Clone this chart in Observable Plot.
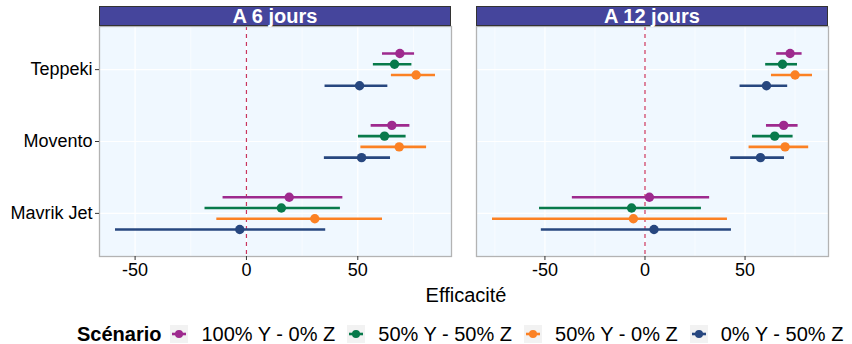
<!DOCTYPE html>
<html>
<head>
<meta charset="utf-8">
<script src="https://cdn.jsdelivr.net/npm/d3@7"></script>
<script src="https://cdn.jsdelivr.net/npm/@observablehq/plot@0.6"></script>
<style>
  html, body { margin: 0; padding: 0; background: white; overflow: hidden; }
  #root { position: relative; width: 852px; height: 344px; font-family: "Liberation Sans", Arial, Helvetica, sans-serif; color: #000; }
  .plot { position: absolute; top: 0; }
  .strip { position: absolute; top: 6px; height: 20px; box-sizing: border-box; background: #45459C; border: 1px solid #333; color: white; font-weight: bold; font-size: 20px; line-height: 18px; text-align: center; }
  #xlab { position: absolute; top: 284px; width: 140px; text-align: center; font-size: 20px; }
  #legend { position: absolute; left: 77px; top: 324px; height: 20px; line-height: 20px; display: flex; align-items: center; font-size: 20px; white-space: nowrap; }
  #legend span { line-height: 20px; }
  #legend .title { font-weight: bold; margin-right: 9px; }
  #legend .key { width: 18px; height: 18px; background: #F2F2F2; margin-right: 13px; display: flex; }
  #legend .lab { margin-right: 12px; }
</style>
</head>
<body>
<div id="root"></div>
<script>
const categories = ["Teppeki", "Movento", "Mavrik Jet"];
const scenarios = ["100% Y - 0% Z", "50% Y - 50% Z", "50% Y - 0% Z", "0% Y - 50% Z"];
const colors = ["#9E2A8E", "#087A4B", "#FB8124", "#27477F"];
const panels = ["A 6 jours", "A 12 jours"];

// estimates [category][scenario]
const est6 = [[68.9, 66.5, 76.2, 50.8], [65.3, 62.0, 68.6, 51.7], [19.2, 15.7, 30.7, -3.0]];
const lo6  = [[61.1, 57.0, 65.1, 35.3], [56.0, 50.3, 51.4, 35.0], [-10.5, -18.6, -13.3, -58.8]];
const hi6  = [[75.5, 74.3, 84.9, 63.5], [73.4, 71.7, 80.9, 64.7], [43.3, 42.2, 61.1, 35.6]];
const est12 = [[72.5, 68.7, 75.0, 60.7], [69.3, 64.8, 70.0, 57.7], [2.2, -6.7, -5.8, 4.5]];
const lo12  = [[65.8, 60.3, 63.2, 47.5], [60.7, 53.7, 52.0, 42.8], [-36.3, -52.7, -76.2, -51.8]];
const hi12  = [[78.5, 76.2, 83.7, 71.3], [76.5, 74.0, 81.8, 69.7], [32.3, 28.2, 41.2, 43.2]];

const majorBreaks = [-50, 0, 50];
const minorBreaks = [-75, -25, 25, 75];
const dodge = 0.15;
const font = '"Liberation Sans", Arial, Helvetica, sans-serif';

function makePlot(est, lo, hi, {width, marginLeft, showY}) {
  const rows = [];
  categories.forEach((c, i) => scenarios.forEach((s, j) => rows.push({
    cat: c, scen: s, est: est[i][j], lo: lo[i][j], hi: hi[i][j], yy: i + (j - 1.5) * dodge
  })));
  const xmin = d3.min(rows, d => d.lo), xmax = d3.max(rows, d => d.hi);
  const pad = (xmax - xmin) * 0.05;
  const domain = [xmin - pad, xmax + pad];
  const inDom = v => v >= domain[0] && v <= domain[1];
  const major = majorBreaks.filter(inDom), minor = minorBreaks.filter(inDom);
  return Plot.plot({
    width, height: 290, marginLeft, marginRight: 1, marginTop: 26, marginBottom: 34,
    style: {fontFamily: font, fontSize: "18px", color: "#000", background: "transparent", overflow: "visible"},
    x: {domain, axis: null},
    y: {domain: [-0.6, 2.6], reverse: true, axis: null},
    color: {domain: scenarios, range: colors},
    marks: [
      Plot.frame({fill: "#F0F8FF", stroke: "none"}),
      Plot.ruleX(minor, {stroke: "white", strokeWidth: 0.6}),
      Plot.ruleX(major, {stroke: "white", strokeWidth: 1.2}),
      Plot.ruleY(categories.map((c, i) => i), {stroke: "white", strokeWidth: 1.2}),
      Plot.ruleX([0], {stroke: "#C9365F", strokeDasharray: "4,4", strokeWidth: 1.2}),
      Plot.ruleY(rows, {y: "yy", x1: "lo", x2: "hi", stroke: "scen", strokeWidth: 2.6}),
      Plot.dot(rows, {x: "est", y: "yy", fill: "scen", r: 4.7}),
      Plot.frame({stroke: "#B3B3B3", strokeWidth: 1.3}),
      Plot.axisX({ticks: major, tickFormat: d => String(d), tickSize: 4, tickPadding: 3, label: null, fontSize: 18, stroke: "#333", fill: "#000"}),
      showY ? Plot.axisY({ticks: categories.map((c, i) => i), tickFormat: i => categories[i], tickSize: 4, tickPadding: 3, label: null, fontSize: 18, stroke: "#333", fill: "#000"}) : null
    ]
  });
}

const root = document.getElementById("root");
const p1 = makePlot(est6, lo6, hi6, {width: 452, marginLeft: 99, showY: true});
p1.classList.add("plot"); p1.style.left = "0px";
const p2 = makePlot(est12, lo12, hi12, {width: 359, marginLeft: 6, showY: false});
p2.classList.add("plot"); p2.style.left = "470px";
root.appendChild(p1); root.appendChild(p2);

const stripPos = [[99, 352], [476, 352]];
panels.forEach((t, k) => {
  const s = document.createElement("div");
  s.className = "strip"; s.textContent = t;
  s.style.left = stripPos[k][0] + "px"; s.style.width = stripPos[k][1] + "px";
  root.appendChild(s);
});

const xl = document.createElement("div");
xl.id = "xlab"; xl.textContent = "Efficacité"; xl.style.left = (466 - 70) + "px";
root.appendChild(xl);

const leg = document.createElement("div");
leg.id = "legend";
const title = document.createElement("span");
title.className = "title"; title.textContent = "Scénario";
leg.appendChild(title);
scenarios.forEach((s, j) => {
  const key = document.createElement("span");
  key.className = "key";
  key.innerHTML = `<svg width="18" height="18"><line x1="2" x2="16" y1="9" y2="9" stroke="${colors[j]}" stroke-width="2.6"/><circle cx="9" cy="9" r="4" fill="${colors[j]}"/></svg>`;
  leg.appendChild(key);
  const lab = document.createElement("span");
  lab.className = "lab"; lab.textContent = s;
  leg.appendChild(lab);
});
root.appendChild(leg);
</script>
</body>
</html>
